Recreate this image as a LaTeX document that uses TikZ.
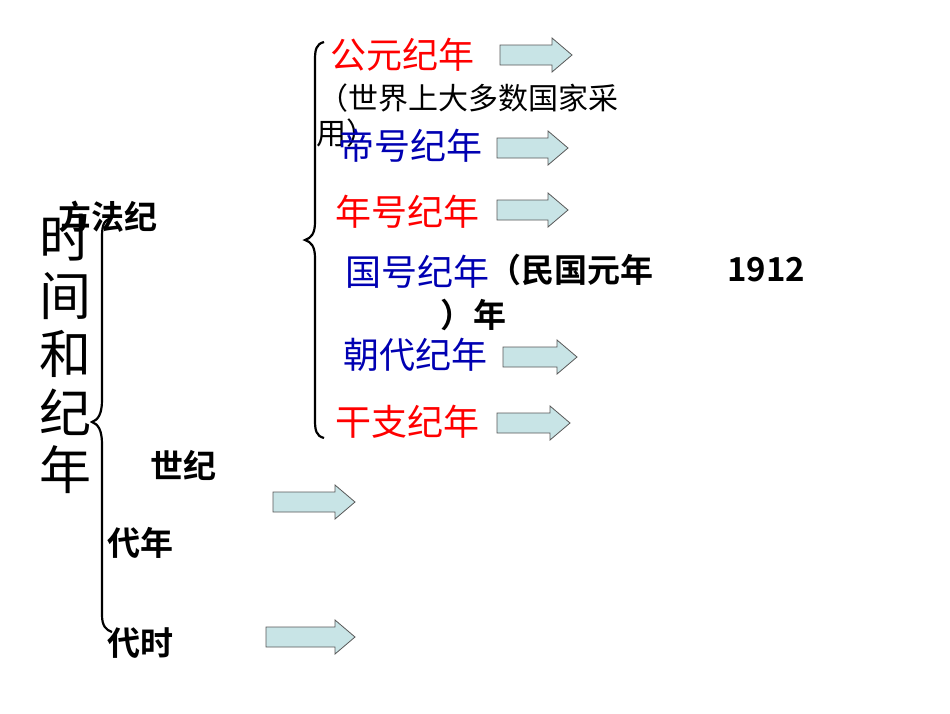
\documentclass[tikz,border=0pt]{standalone}
\usepackage{fontspec}
\newfontfamily\cjk{Noto Sans CJK SC}
\newfontfamily\cjkb{Noto Sans CJK SC Bold}
\definecolor{arrfill}{RGB}{200,228,230}
\begin{document}
\begin{tikzpicture}[x=1pt,y=-1pt,
  t/.style={anchor=west,inner sep=0pt,font=\cjk\fontsize{36}{38}\selectfont},
  b/.style={anchor=west,inner sep=0pt,font=\cjkb\fontsize{33}{35}\selectfont},
  arr/.style={draw=black!65,fill=arrfill,line width=0.8pt},
  br/.style={line width=2.2pt}]
\useasboundingbox (0,0) rectangle (950,713);
\fill[white] (0,0) rectangle (950,713);
\def\barr#1#2#3{\draw[arr] (#1,#3-10) -- (#2-20,#3-10) -- (#2-20,#3-17) -- (#2,#3) -- (#2-20,#3+17) -- (#2-20,#3+10) -- (#1,#3+10) -- cycle;}
% left column
\node[b] (f) at (58,217) {方法纪};
\foreach \c/\y [count=\i] in {时/238,间/296,和/354,纪/412,年/470}
  \node[anchor=center,inner sep=0pt,font=\cjk\fontsize{52}{54}\selectfont] (v\i) at (65,\y) {\c};
% braces
\draw[br] (112,218) .. controls (102,220) and (102,228) .. (102,240) -- (102,400)
  .. controls (102,414) and (98,420) .. (92,422) .. controls (98,424) and (102,430) .. (102,444)
  -- (102,615) .. controls (102,626) and (106,630) .. (112,632);
\draw[br] (324,42) .. controls (316,44) and (315,50) .. (315,60) -- (315,222)
  .. controls (315,234) and (311,238) .. (305,240) .. controls (311,242) and (315,246) .. (315,258)
  -- (315,420) .. controls (315,430) and (316,436) .. (324,438);
% right column
\node[t,red] (a1) at (330,55) {公元纪年};
\node[t,font=\cjk\fontsize{30}{32}\selectfont] (a1n) at (318,98) {（世界上大多数国家采};
\node[t,font=\cjk\fontsize{30}{32}\selectfont] (a1m) at (316,133) {用）};
\node[t,blue!70!black] (a2) at (338,146) {帝号纪年};
\node[t,red] (a3) at (335,212) {年号纪年};
\node[t,blue!70!black] (a4) at (345,272) {国号纪年};
\node[b] (a4n) at (488,270) {（民国元年};
\node[b] (a4y) at (727,270) {1912};
\node[b] (a4z) at (440,315) {）年};
\node[t,blue!70!black] (a5) at (343,355) {朝代纪年};
\node[t,red] (a6) at (335,422) {干支纪年};
\node[b] (s) at (150,465) {世纪};
\node[b] (d) at (107,543) {代年};
\node[b] (e) at (107,643) {代时};
% arrows
\barr{500}{572}{55}
\barr{497}{568}{148}
\barr{497}{568}{210}
\barr{503}{577}{357}
\barr{497}{570}{423}
\barr{273}{355}{502}
\barr{266}{355}{637}
\end{tikzpicture}
\end{document}
